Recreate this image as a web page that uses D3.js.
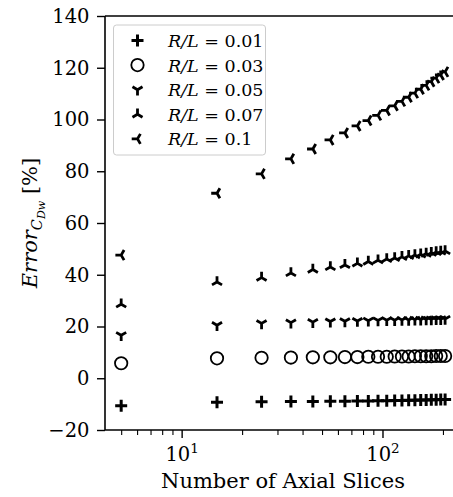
<!DOCTYPE html>
<html><head><meta charset="utf-8">
<script src="https://cdn.jsdelivr.net/npm/d3@7"></script>
<style>
html,body{margin:0;padding:0;background:#fff;overflow:hidden;}
text{font-family:"DejaVu Serif",serif;}
</style></head>
<body><svg id="c" width="453" height="497"></svg>
<script>
const slices = [5,15,25,35,45,55,65,75,85,95,105,115,125,135,145,155,165,175,185,195,205];
const rl001 = [-10.6,-9.3,-9.1,-9.0,-9.0,-8.9,-8.9,-8.8,-8.8,-8.7,-8.7,-8.6,-8.6,-8.5,-8.5,-8.4,-8.4,-8.3,-8.3,-8.2,-8.2];
const rl003 = [5.8,7.7,7.9,8.0,8.1,8.1,8.2,8.2,8.3,8.3,8.3,8.4,8.4,8.4,8.5,8.5,8.5,8.5,8.6,8.6,8.6];
const rl005 = [16.6,20.5,21.2,21.5,21.7,21.9,22.0,22.1,22.2,22.3,22.4,22.4,22.5,22.5,22.6,22.6,22.7,22.7,22.8,22.8,22.9];
const rl007 = [28.6,37.2,38.9,40.7,42.0,43.0,43.8,44.4,45.1,45.6,46.1,46.5,46.9,47.3,47.6,47.9,48.2,48.5,48.8,49.0,49.2];
const rl010 = [47.6,71.5,79.0,84.8,88.6,92.1,94.8,97.5,99.6,101.6,103.5,105.3,107.0,108.6,110.2,111.7,113.2,114.6,116.0,117.2,118.4];
const seriesLabels = ["0.01","0.03","0.05","0.07","0.1"];
const markerTypes = ["plus","circle","tri_down","tri_up","tri_left"];
const yTicks = [-20,0,20,40,60,80,100,120,140];
const xMajor = [10,100];
const xLabel = "Number of Axial Slices";

const svg = d3.select("#c");
const L=105, T=16, B=430;
const lo = 0.6184, hi = 2.3924;
const x = d3.scaleLog().domain([Math.pow(10,lo), Math.pow(10,hi)]).range([L, 461.3]);
const y = d3.scaleLinear().domain([-20,140]).range([B, T]);
const R = x.range()[1];

const allSeries = [rl001, rl003, rl005, rl007, rl010];

function markerPath(type, s){
  const r=s;
  const c30=Math.cos(Math.PI/6), s30=0.5;
  switch(type){
    case "plus": return `M${-r},0H${r}M0,${-r}V${r}`;
    case "tri_down": return `M0,0V${r}M0,0L${-r*c30},${-r*s30}M0,0L${r*c30},${-r*s30}`;
    case "tri_up": return `M0,0V${-r}M0,0L${-r*c30},${r*s30}M0,0L${r*c30},${r*s30}`;
    case "tri_left": return `M0,0H${-r}M0,0L${r*s30},${-r*c30}M0,0L${r*s30},${r*c30}`;
  }
}
function drawMarker(g, type, cx, cy){
  if(type==="circle"){
    g.append("circle").attr("cx",cx).attr("cy",cy).attr("r",6.2)
      .attr("fill","none").attr("stroke","#000").attr("stroke-width",1.8);
  } else {
    const sz = type==="plus"?6:5.8;
    g.append("path").attr("transform",`translate(${cx},${cy})`)
      .attr("d",markerPath(type,sz)).attr("fill","none")
      .attr("stroke","#000").attr("stroke-width",type==="plus"?3:2.8);
  }
}

const gData = svg.append("g");
allSeries.forEach((vals,i)=>{
  vals.forEach((v,j)=>{
    drawMarker(gData, markerTypes[i], x(slices[j]), y(v));
  });
});

// spines
svg.append("line").attr("x1",L).attr("x2",L).attr("y1",T).attr("y2",B).attr("stroke","#000").attr("stroke-width",1.6);
svg.append("line").attr("x1",L).attr("x2",R).attr("y1",B).attr("y2",B).attr("stroke","#000").attr("stroke-width",1.6);
svg.append("line").attr("x1",L).attr("x2",R).attr("y1",T).attr("y2",T).attr("stroke","#000").attr("stroke-width",1.6);

// y axis
const yAxis = d3.axisLeft(y).tickValues(yTicks).tickSize(8).tickPadding(7.5)
  .tickFormat(d=> d<0 ? "\u2212"+Math.abs(d) : String(d));
const gy = svg.append("g").attr("transform",`translate(${L},0)`).call(yAxis);
gy.select(".domain").remove();
gy.selectAll(".tick line").attr("stroke","#000").attr("stroke-width",1.4);
gy.selectAll(".tick text").attr("font-size",19.5).attr("fill","#000").attr("font-family","DejaVu Serif");

// x axis major
const xAxis = d3.axisBottom(x).tickValues(xMajor).tickSize(8).tickPadding(5).tickFormat("");
const gx = svg.append("g").attr("transform",`translate(0,${B})`).call(xAxis);
gx.select(".domain").remove();
gx.selectAll(".tick line").attr("stroke","#000").attr("stroke-width",1.4);
gx.selectAll(".tick").each(function(d){
  const t = d3.select(this).append("text").attr("y",31).attr("fill","#000")
    .attr("font-size",19.5).attr("text-anchor","middle").attr("font-family","DejaVu Serif");
  t.append("tspan").text("10");
  t.append("tspan").attr("dy",-8).attr("font-size",13.5).text(String(Math.round(Math.log10(d))));
});
// minor ticks
const minor = [];
[1,10,100].forEach(dec=>{ for(let k=2;k<=9;k++){ const v=dec*k; if(v>x.domain()[0] && v<x.domain()[1]) minor.push(v);} });
const xMinor = d3.axisBottom(x).tickValues(minor).tickSize(5).tickFormat("");
const gxm = svg.append("g").attr("transform",`translate(0,${B})`).call(xMinor);
gxm.select(".domain").remove();
gxm.selectAll(".tick line").attr("stroke","#000").attr("stroke-width",1.1);

// x label
svg.append("text").attr("x",283).attr("y",488).attr("text-anchor","middle")
  .attr("font-size",21).attr("fill","#000").text(xLabel);

// y label
const yl = svg.append("text").attr("transform",`translate(37,${(T+B)/2}) rotate(-90)`)
  .attr("text-anchor","middle").attr("font-size",21).attr("fill","#000");
yl.append("tspan").attr("font-style","italic").text("Error");
yl.append("tspan").attr("font-style","italic").attr("font-size",14.5).attr("dy",4.5).text("C");
yl.append("tspan").attr("font-style","italic").attr("font-size",11).attr("dy",3).text("Dw");
yl.append("tspan").attr("dy",-7.5).text(" [%]");

// legend
const lg = svg.append("g");
lg.append("rect").attr("x",113.5).attr("y",25).attr("width",152).attr("height",130)
  .attr("rx",3).attr("fill","#fff").attr("fill-opacity",0.8).attr("stroke","#cccccc").attr("stroke-width",1);
seriesLabels.forEach((lab,i)=>{
  const cy = 40.5 + i*24.6;
  drawMarker(lg, markerTypes[i], 137.5, cy);
  const t = lg.append("text").attr("x",168).attr("y",cy+6.5).attr("font-size",17.5).attr("fill","#000");
  t.append("tspan").attr("font-style","italic").text("R/L");
  t.append("tspan").text(" = "+lab);
});
</script></body></html>
